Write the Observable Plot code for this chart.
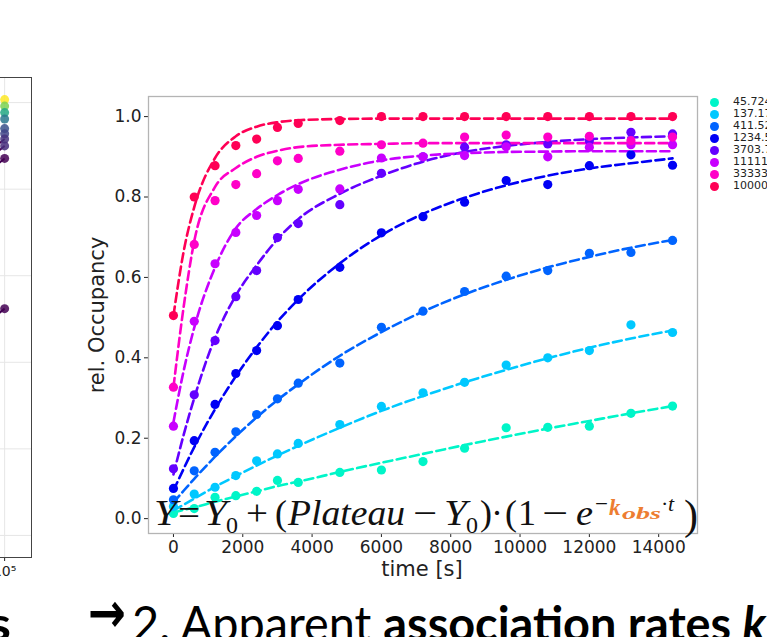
<!DOCTYPE html>
<html><head><meta charset="utf-8">
<script src="https://cdn.jsdelivr.net/npm/d3@7"></script>
<script src="https://cdn.jsdelivr.net/npm/@observablehq/plot@0.6"></script>
<style>
html,body{margin:0;padding:0;width:767px;height:637px;overflow:hidden;background:#fff;}
#wrap{position:relative;width:767px;height:637px;overflow:hidden;}
.abs{position:absolute;}
#legend{position:absolute;left:707px;top:96px;font-family:"DejaVu Sans";font-size:11px;color:#222;white-space:nowrap;}
#legend .row{height:12px;line-height:12px;display:flex;align-items:center;}
#legend .sw{width:9px;height:9px;border-radius:50%;display:inline-block;margin-left:3px;margin-right:14px;}
</style></head><body><div id="wrap"></div>
<script>
// ---- data ----
const times = [0,600,1200,1800,2400,3000,3600,4800,6000,7200,8400,9600,10800,12000,13200,14400];
const fitTimes = [0,300,600,1200,1800,2400,3000,3600,4800,6000,7200,8400,9600,10800,12000,13200,14400];
const concLabels = ["45.72473708276177","137.17421124828533","411.52263374485597","1234.567901234568","3703.703703703704","11111.111111111111","33333.333333333336","100000.0"];
const colors = ["#00f5c8","#00c8ff","#0064ff","#0000f5","#6400ff","#c800ff","#ff00c8","#ff0055"];

const occ45 = [0.013,0.025,0.053,0.057,0.068,0.095,0.09,0.115,0.121,0.142,0.175,0.226,0.227,0.23,0.262,0.28];
const occ137 = [0.03,0.061,0.078,0.107,0.144,0.161,0.187,0.234,0.279,0.313,0.339,0.382,0.40,0.418,0.482,0.463];
const occ411 = [0.047,0.119,0.165,0.216,0.259,0.298,0.337,0.387,0.476,0.516,0.565,0.603,0.617,0.66,0.662,0.692];
const occ1234 = [0.075,0.194,0.284,0.361,0.418,0.48,0.545,0.625,0.711,0.751,0.787,0.841,0.831,0.878,0.905,0.879];
const occ3703 = [0.124,0.308,0.443,0.552,0.617,0.699,0.734,0.781,0.859,0.90,0.924,0.93,0.932,0.94,0.961,0.957];
const occ11111 = [0.23,0.491,0.634,0.712,0.754,0.791,0.819,0.82,0.897,0.90,0.903,0.925,0.90,0.924,0.93,0.93];
const occ33333 = [0.327,0.682,0.791,0.831,0.858,0.89,0.896,0.914,0.93,0.934,0.949,0.954,0.949,0.951,0.94,0.949];
const occ100000 = [0.505,0.80,0.878,0.928,0.944,0.973,0.983,0.99,1.0,1.0,1.0,1.0,1.0,1.0,1.0,1.0];

const fit45 = [0.015,0.022,0.028,0.042,0.055,0.068,0.081,0.092,0.116,0.139,0.161,0.183,0.204,0.224,0.243,0.262,0.28];
const fit137 = [0.02,0.035,0.05,0.079,0.106,0.132,0.157,0.181,0.226,0.268,0.305,0.339,0.37,0.399,0.425,0.448,0.468];
const fit411 = [0.04,0.07,0.099,0.154,0.205,0.252,0.295,0.334,0.405,0.464,0.515,0.558,0.594,0.625,0.651,0.674,0.693];
const fit1234 = [0.07,0.125,0.178,0.272,0.354,0.426,0.49,0.545,0.635,0.705,0.758,0.798,0.829,0.853,0.871,0.884,0.896];
const fit3703 = [0.11,0.21,0.30,0.45,0.555,0.63,0.695,0.745,0.808,0.853,0.888,0.912,0.927,0.937,0.944,0.948,0.951];
const fit11111 = [0.24,0.37,0.475,0.625,0.722,0.77,0.805,0.832,0.868,0.891,0.903,0.909,0.912,0.913,0.914,0.914,0.914];
const fit33333 = [0.327,0.53,0.69,0.825,0.872,0.90,0.915,0.924,0.93,0.932,0.934,0.934,0.934,0.934,0.934,0.934,0.934];
const fit100000 = [0.505,0.667,0.775,0.897,0.951,0.975,0.986,0.991,0.994,0.995,0.995,0.995,0.995,0.995,0.995,0.995,0.995];

const xTicks = [0,2000,4000,6000,8000,10000,12000,14000];
const yTicks = [0,0.2,0.4,0.6,0.8,1.0];

// fragment of the neighbouring panel (left edge)
const leftY = [1.007,0.992,0.977,0.962,0.94,0.928,0.916,0.9,0.871,0.524];
const leftColors = ["#fde725","#7ad151","#22a884","#2a788e","#3b528b","#414487","#46327e","#472d7b","#440154","#440154"];
const leftGrid = [0,0.2,0.4,0.6,0.8,1.0];

// ---- build tables ----
const occSeries = [occ45,occ137,occ411,occ1234,occ3703,occ11111,occ33333,occ100000];
const fitSeries = [fit45,fit137,fit411,fit1234,fit3703,fit11111,fit33333,fit100000];
const pts = [], fits = [];
occSeries.forEach((arr,i)=>arr.forEach((v,j)=>pts.push({t:times[j], v, s:concLabels[i]})));
fitSeries.forEach((arr,i)=>arr.forEach((v,j)=>fits.push({t:fitTimes[j], v, s:concLabels[i]})));

const wrap = document.getElementById("wrap");

// left fragment panel
const leftPanel = Plot.plot({
  width: 200, height: 600,
  marginLeft: 0, marginRight: 1, marginTop: 77, marginBottom: 43,
  style: {fontFamily: "DejaVu Sans", fontSize: "14px", color: "#222", background: "transparent", overflow: "visible"},
  x: {type: "log", domain: [10**4.135, 10**5.135], ticks: [1e5], tickFormat: () => "10⁵", tickSize: 4, label: null},
  y: {domain: [-0.051, 1.058], axis: null},
  marks: [
    Plot.ruleY(leftGrid, {stroke: "#e6e6e6", strokeWidth: 1}),
    Plot.ruleX([1e5], {stroke: "#e6e6e6", strokeWidth: 1}),
    Plot.link(leftY.map((v,i)=>({v,i})).filter(d=>d.i>=6), {x1: () => 10**4.96, y1: d => d.v - 0.015, x2: () => 1e5, y2: d => d.v, stroke: "#440154", strokeWidth: 2}),
    Plot.dot(leftY.map((v,i)=>({v, c: leftColors[i]})), {x: () => 1e5, y: "v", fill: "c", r: 4.5, fillOpacity: 0.85}),
    Plot.frame({stroke: "#444", strokeWidth: 1})
  ]
});
leftPanel.classList.add("abs");
leftPanel.style.left = "-168px"; leftPanel.style.top = "0px";
wrap.appendChild(leftPanel);

// main chart
const main = Plot.plot({
  width: 705, height: 580,
  marginLeft: 148, marginRight: 8, marginTop: 96, marginBottom: 47,
  style: {fontFamily: "DejaVu Sans", fontSize: "17px", color: "#222", background: "transparent", overflow: "visible"},
  x: {domain: [-720, 15120], ticks: xTicks, tickFormat: d => String(d), tickSize: 4, tickPadding: 3, label: null},
  y: {domain: [-0.037, 1.05], ticks: yTicks, tickFormat: d => d.toFixed(1), tickSize: 4, tickPadding: 3, label: null},
  color: {domain: concLabels, range: colors},
  marks: [
    Plot.frame({stroke: "#b4b4b4", strokeWidth: 1.3}),
    Plot.line(fits, {x: "t", y: "v", z: "s", stroke: "s", strokeWidth: 2.6, strokeDasharray: "9,4.5", curve: "monotone-x"}),
    Plot.dot(pts, {x: "t", y: "v", fill: "s", r: 4.6})
  ]
});
main.classList.add("abs");
main.style.left = "0px"; main.style.top = "0px";
wrap.appendChild(main);

// legend
const legend = document.createElement("div");
legend.id = "legend";
concLabels.forEach((lab,i)=>{
  const row = document.createElement("div"); row.className = "row";
  const sw = document.createElement("span"); sw.className = "sw"; sw.style.background = colors[i];
  const tx = document.createElement("span"); tx.textContent = lab;
  row.appendChild(sw); row.appendChild(tx); legend.appendChild(row);
});
wrap.appendChild(legend);

// overlay: axis titles, formula, slide text
const svg = d3.create("svg").attr("width", 767).attr("height", 637)
  .attr("class", "abs").style("left", "0px").style("top", "0px").style("pointer-events", "none");

svg.append("text").attr("x", 422).attr("y", 576).attr("text-anchor", "middle")
  .attr("font-family", "DejaVu Sans").attr("font-size", 21).attr("fill", "#222").text("time [s]");
svg.append("text").attr("transform", "translate(104,315) rotate(-90)").attr("text-anchor", "middle")
  .attr("font-family", "DejaVu Sans").attr("font-size", 21).attr("fill", "#222").text("rel. Occupancy");

// formula
const F = svg.append("g").attr("font-family", "Liberation Serif").attr("fill", "#111");
function piece(txt, x, y, size, opts = {}) {
  const t = F.append("text").attr("x", x).attr("y", y).attr("font-size", size)
    .attr("font-style", opts.italic === false ? "normal" : "italic").text(txt);
  if (opts.bold) t.attr("font-weight", "bold");
  if (opts.fill) t.attr("fill", opts.fill);
  if (opts.len) t.attr("textLength", opts.len).attr("lengthAdjust", "spacingAndGlyphs");
  return t;
}
piece("Y", 154, 525, 36, {len: 23});
piece("=", 178, 525, 36, {italic: false, len: 22});
piece("Y", 204, 525, 36, {len: 23});
piece("0", 226, 533, 24, {italic: false});
piece("+", 246, 525, 36, {italic: false, len: 22});
piece("(", 275, 525, 36, {italic: false});
piece("Plateau", 288, 525, 36, {len: 117});
piece("−", 413, 525, 36, {italic: false, len: 24});
piece("Y", 444, 525, 36, {len: 23});
piece("0", 466, 533, 24, {italic: false});
piece(")", 480, 525, 36, {italic: false});
piece("·", 491, 525, 36, {italic: false});
piece("(", 505, 525, 36, {italic: false});
piece("1", 518, 525, 36, {italic: false});
piece("−", 542, 525, 36, {italic: false, len: 26});
piece("e", 576, 525, 36, {len: 17});
piece("−", 595, 511, 22, {italic: false, len: 13});
piece("k", 609, 515, 23, {bold: true, fill: "#ed7d31"});
piece("obs", 622, 519, 17, {bold: true, fill: "#ed7d31", len: 39});
piece("·", 661, 511, 22, {italic: false});
piece("t", 668, 511, 22);
piece(")", 684, 529, 42, {italic: false});

// slide text
const S = svg.append("g").attr("font-family", "Lato").attr("fill", "#000");
S.append("text").attr("x", -12).attr("y", 641).attr("font-size", 48).attr("font-weight", "bold")
  .attr("textLength", 23).attr("lengthAdjust", "spacingAndGlyphs").text("s");
S.append("text").attr("x", 88).attr("y", 632).attr("font-size", 56).attr("font-weight", "bold")
  .attr("font-family", "DejaVu Sans").attr("textLength", 38).attr("lengthAdjust", "spacingAndGlyphs").text("→");
const line = S.append("text").attr("x", 132).attr("y", 641).attr("font-size", 48)
  .attr("textLength", 634).attr("lengthAdjust", "spacingAndGlyphs");
line.append("tspan").text("2. Apparent ");
line.append("tspan").attr("font-weight", "bold").text("association rates ");
line.append("tspan").attr("font-weight", "bold").attr("font-style", "italic").text("k");

wrap.appendChild(svg.node());
</script></body></html>
